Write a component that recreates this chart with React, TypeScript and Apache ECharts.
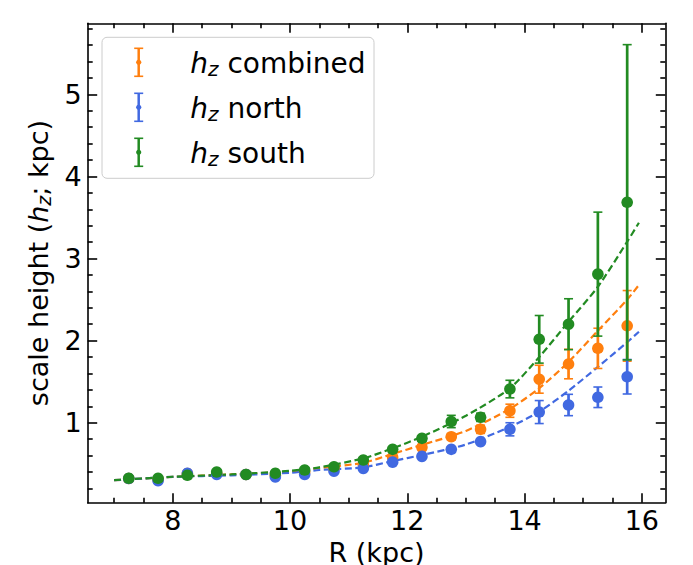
import React, { useEffect, useRef } from "react";
import * as echarts from "echarts";

// ---- data ----
const radii = [7.25, 7.75, 8.25, 8.75, 9.25, 9.75, 10.25, 10.75, 11.25, 11.75, 12.25, 12.75, 13.25, 13.75, 14.25, 14.75, 15.25, 15.75];

const combinedH = [0.32, 0.31, 0.38, 0.38, 0.37, 0.36, 0.40, 0.44, 0.49, 0.58, 0.70, 0.83, 0.92, 1.146, 1.53, 1.715, 1.906, 2.18];
const combinedErr = [0.01, 0.01, 0.01, 0.01, 0.01, 0.01, 0.01, 0.015, 0.015, 0.02, 0.03, 0.04, 0.05, 0.08, 0.17, 0.18, 0.245, 0.43];

const northH = [0.32, 0.294, 0.384, 0.37, 0.37, 0.34, 0.37, 0.41, 0.444, 0.52, 0.59, 0.676, 0.77, 0.92, 1.13, 1.216, 1.31, 1.56];
const northErr = [0.01, 0.01, 0.01, 0.01, 0.01, 0.01, 0.01, 0.01, 0.015, 0.015, 0.02, 0.03, 0.03, 0.08, 0.14, 0.13, 0.125, 0.21];

const southH = [0.323, 0.323, 0.36, 0.40, 0.37, 0.384, 0.424, 0.464, 0.546, 0.676, 0.81, 1.015, 1.066, 1.41, 2.016, 2.20, 2.81, 3.685];
const southErr = [0.015, 0.015, 0.015, 0.015, 0.015, 0.015, 0.015, 0.015, 0.02, 0.02, 0.03, 0.075, 0.05, 0.107, 0.29, 0.31, 0.755, 1.92];

const fitR = [7.0, 8.0, 9.0, 10.0, 10.5, 11.25, 11.75, 12.25, 13.0, 13.75, 14.25, 14.75, 15.25, 15.75, 15.95];
const fitCombined = [0.30, 0.34, 0.37, 0.405, 0.447, 0.513, 0.62, 0.73, 0.90, 1.17, 1.42, 1.74, 2.12, 2.50, 2.677];
const fitNorth = [0.30, 0.34, 0.36, 0.39, 0.424, 0.457, 0.533, 0.607, 0.735, 0.95, 1.134, 1.39, 1.68, 1.98, 2.108];
const fitSouth = [0.30, 0.342, 0.37, 0.415, 0.457, 0.566, 0.688, 0.83, 1.085, 1.42, 1.80, 2.23, 2.656, 3.205, 3.436];

const xMajor = [8, 10, 12, 14, 16];
const xMinor = [7, 7.5, 8.5, 9, 9.5, 10.5, 11, 11.5, 12.5, 13, 13.5, 14.5, 15, 15.5];
const yMajor = [1, 2, 3, 4, 5];
const yMinor = [0.2, 0.4, 0.6, 0.8, 1.2, 1.4, 1.6, 1.8, 2.2, 2.4, 2.6, 2.8, 3.2, 3.4, 3.6, 3.8, 4.2, 4.4, 4.6, 4.8, 5.2, 5.4, 5.6, 5.8];

const xRange = [6.55, 16.40];
const yRange = [0.026, 5.865];

const seriesNames = ["combined", "north", "south"];
const colors = ["#ff7f0e", "#4169e1", "#228b22"];

const FONT = "DejaVu Sans";

export default function App() {
  const ref = useRef<HTMLDivElement>(null);

  useEffect(() => {
    if (!ref.current) return;
    const chart = echarts.init(ref.current, undefined, { renderer: "svg" });

    const makeRich = (fs: number) => ({
      h: { fontStyle: "italic", fontSize: fs, fontFamily: FONT, color: "#000" },
      z: { fontStyle: "italic", fontSize: Math.round(fs * 0.7), fontFamily: FONT, color: "#000", padding: [11, 0, 0, 0] },
      n: { fontSize: fs, fontFamily: FONT, color: "#000" },
    });

    const xAx = (pos: string, vals: number[], len: number, main: boolean) => ({
      type: "value",
      position: pos,
      min: xRange[0],
      max: xRange[1],
      splitLine: { show: false },
      axisLine: { show: main, onZero: false, lineStyle: { color: "#000", width: 1.6 } },
      axisTick: { show: true, inside: true, length: len, customValues: vals, lineStyle: { color: "#000", width: 1.6 } },
      axisLabel: main && pos === "bottom"
        ? { show: true, customValues: xMajor, fontSize: 27, fontFamily: FONT, color: "#000", margin: 4 }
        : { show: false },
      ...(main && pos === "bottom"
        ? {
            name: "R (kpc)",
            nameLocation: "middle",
            nameGap: 31,
            nameTextStyle: { fontSize: 27, lineHeight: 26, fontFamily: FONT, color: "#000" },
          }
        : {}),
    });

    const yAx = (pos: string, vals: number[], len: number, main: boolean) => ({
      type: "value",
      position: pos,
      min: yRange[0],
      max: yRange[1],
      splitLine: { show: false },
      axisLine: { show: main, onZero: false, lineStyle: { color: "#000", width: 1.6 } },
      axisTick: { show: true, inside: true, length: len, customValues: vals, lineStyle: { color: "#000", width: 1.6 } },
      axisLabel: main && pos === "left"
        ? { show: true, customValues: yMajor, fontSize: 27, fontFamily: FONT, color: "#000", margin: 6 }
        : { show: false },
      ...(main && pos === "left"
        ? {
            name: "{n|scale height (}{h|h}{z|z}{n|; kpc)}",
            nameLocation: "middle",
            nameGap: 31,
            nameTextStyle: { fontSize: 27, fontFamily: FONT, color: "#000", rich: makeRich(27) },
          }
        : {}),
    });

    const hs = [combinedH, northH, southH];
    const es = [combinedErr, northErr, southErr];
    const fits = [fitCombined, fitNorth, fitSouth];

    const fitSeries = fits.map((f, i) => ({
      type: "line",
      name: "fit " + seriesNames[i],
      xAxisIndex: 0,
      yAxisIndex: 0,
      data: fitR.map((r, k) => [r, f[k]]),
      showSymbol: false,
      symbol: "none",
      smooth: 0.25,
      lineStyle: { color: colors[i], width: 2.2, type: [7, 3.5] },
      z: 2,
    }));

    const errSeries = hs.map((h, i) => ({
      type: "custom",
      name: seriesNames[i],
      xAxisIndex: 0,
      yAxisIndex: 0,
      encode: { x: 0, y: 1 },
      data: radii.map((r, k) => [r, h[k], es[i][k]]),
      z: 3,
      renderItem: (_params: any, api: any) => {
        const x = api.value(0);
        const y = api.value(1);
        const e = api.value(2);
        const c = api.coord([x, y]);
        const t = api.coord([x, y + e]);
        const b = api.coord([x, y - e]);
        const col = colors[i];
        return {
          type: "group",
          children: [
            { type: "line", shape: { x1: c[0], y1: t[1], x2: c[0], y2: b[1] }, style: { stroke: col, lineWidth: 2.7 } },
            { type: "line", shape: { x1: c[0] - 4.5, y1: t[1], x2: c[0] + 4.5, y2: t[1] }, style: { stroke: col, lineWidth: 1.6 } },
            { type: "line", shape: { x1: c[0] - 4.5, y1: b[1], x2: c[0] + 4.5, y2: b[1] }, style: { stroke: col, lineWidth: 1.6 } },
            { type: "circle", shape: { cx: c[0], cy: c[1], r: 5.8 }, style: { fill: col } },
          ],
        };
      },
    }));

    // legend (drawn manually to support h_z mathtext)
    const legendRows = [62.3, 107.3, 152.3];
    const legendChildren: any[] = [
      {
        type: "rect",
        shape: { x: 102, y: 37.3, width: 272, height: 141, r: 5 },
        style: { fill: "rgba(255,255,255,0.8)", stroke: "#cccccc", lineWidth: 1 },
      },
    ];
    legendRows.forEach((ry, i) => {
      const cx = 138.7;
      const col = colors[i];
      legendChildren.push(
        { type: "line", shape: { x1: cx, y1: ry - 14, x2: cx, y2: ry + 14 }, style: { stroke: col, lineWidth: 2.5 } },
        { type: "line", shape: { x1: cx - 4.5, y1: ry - 14, x2: cx + 4.5, y2: ry - 14 }, style: { stroke: col, lineWidth: 1.6 } },
        { type: "line", shape: { x1: cx - 4.5, y1: ry + 14, x2: cx + 4.5, y2: ry + 14 }, style: { stroke: col, lineWidth: 1.6 } },
        { type: "circle", shape: { cx: cx, cy: ry, r: 2.6 }, style: { fill: col } },
        {
          type: "text",
          x: 190.3,
          y: ry + 1.5,
          style: {
            text: "{h|h}{z|z}{n| " + seriesNames[i] + "}",
            rich: makeRich(28),
            fontSize: 28,
            fontFamily: FONT,
            fill: "#000",
            verticalAlign: "middle",
            align: "left",
          },
        }
      );
    });

    chart.setOption({
      animation: false,
      backgroundColor: "#ffffff",
      grid: { left: 87.7, right: 27.7, top: 23.3, bottom: 62.3, containLabel: false, outerBoundsMode: "none" },
      xAxis: [
        xAx("bottom", xMajor, 9.5, true),
        xAx("bottom", xMinor, 5, false),
        xAx("top", xMajor, 9.5, true),
        xAx("top", xMinor, 5, false),
      ],
      yAxis: [
        yAx("left", yMajor, 9.5, true),
        yAx("left", yMinor, 5, false),
        yAx("right", yMajor, 9.5, true),
        yAx("right", yMinor, 5, false),
      ],
      series: [...fitSeries, ...errSeries],
      graphic: [{ type: "group", z: 10, children: legendChildren }],
    });

    return () => chart.dispose();
  }, []);

  return (
    <div
      ref={ref}
      style={{ position: "absolute", left: 0, top: 0, width: 693, height: 565, background: "#fff" }}
    />
  );
}
